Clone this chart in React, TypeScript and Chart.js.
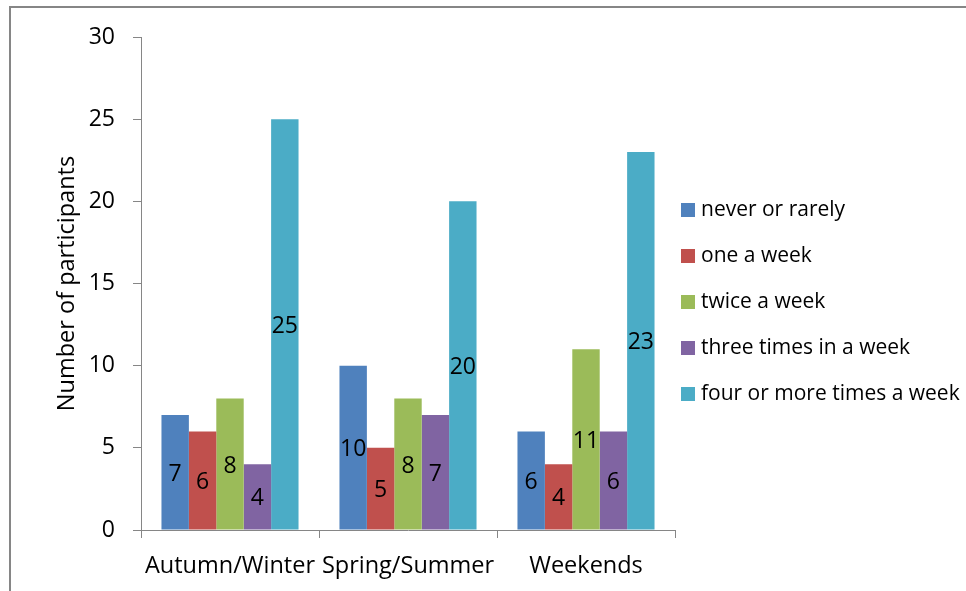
import React, { useEffect, useRef } from "react";
import { Chart, registerables } from "chart.js";

Chart.register(...registerables);

const categories = ["Autumn/Winter", "Spring/Summer", "Weekends"];
const seriesNames = [
  "never or rarely",
  "one a week",
  "twice a week",
  "three times in a week",
  "four or more times a week",
];
const neverOrRarely = [7, 10, 6];
const oneAWeek = [6, 5, 4];
const twiceAWeek = [8, 8, 11];
const threeTimesInAWeek = [4, 7, 6];
const fourOrMoreTimes = [25, 20, 23];
const seriesValues = [neverOrRarely, oneAWeek, twiceAWeek, threeTimesInAWeek, fourOrMoreTimes];
const seriesColors = ["#4F81BD", "#C0504D", "#9BBB59", "#8064A2", "#4BACC6"];
const yMin = 0;
const yMax = 30;
const yStep = 5;
const yTitle = "Number of participants";

const FONT = "'Open Sans', sans-serif";
const AXIS = "#868686";
const W = 966;
const H = 591;

const dataLabelPlugin = {
  id: "dataLabels",
  afterDatasetsDraw(chart: any) {
    const ctx = chart.ctx;
    ctx.save();
    ctx.font = `23px ${FONT}`;
    ctx.fillStyle = "#000";
    ctx.textAlign = "center";
    ctx.textBaseline = "middle";
    chart.data.datasets.forEach((ds: any, i: number) => {
      const meta = chart.getDatasetMeta(i);
      meta.data.forEach((el: any, j: number) => {
        const cy = (el.y + el.base) / 2 + 2;
        ctx.fillText(String(ds.data[j]), el.x, cy);
      });
    });
    ctx.restore();
  },
};

const legendPlugin = {
  id: "customLegend",
  afterDraw(chart: any) {
    const ctx = chart.ctx;
    const x0 = chart.chartArea.right + 6;
    const centerY = 302;
    const gap = 46;
    const n = chart.data.datasets.length;
    ctx.save();
    ctx.font = `21px ${FONT}`;
    ctx.textAlign = "left";
    ctx.textBaseline = "middle";
    chart.data.datasets.forEach((ds: any, i: number) => {
      const y = centerY + (i - (n - 1) / 2) * gap;
      ctx.fillStyle = ds.backgroundColor;
      ctx.fillRect(x0, y - 7, 14, 14);
      ctx.fillStyle = "#000";
      ctx.fillText(ds.label, x0 + 20, y);
    });
    ctx.restore();
  },
};

export default function App() {
  const ref = useRef<HTMLCanvasElement | null>(null);

  useEffect(() => {
    if (!ref.current) return;
    const chart = new Chart(ref.current, {
      type: "bar",
      data: {
        labels: categories,
        datasets: seriesNames.map((name, i) => ({
          label: name,
          data: seriesValues[i],
          backgroundColor: seriesColors[i],
          borderWidth: 0,
          categoryPercentage: 0.77,
          barPercentage: 1.0,
        })),
      },
      options: {
        animation: false,
        responsive: false,
        devicePixelRatio: 1,
        layout: { padding: { left: 10, top: 37, right: 291, bottom: 10 } },
        plugins: {
          legend: { display: false },
          tooltip: { enabled: false },
          title: { display: false },
        },
        scales: {
          x: {
            offset: true,
            grid: {
              offset: true,
              drawOnChartArea: false,
              drawTicks: true,
              tickLength: 8,
              color: AXIS,
            },
            border: { color: AXIS, width: 1 },
            ticks: {
              color: "#000",
              font: { family: FONT, size: 23.5 },
              padding: 14,
              maxRotation: 0,
              autoSkip: false,
            },
            afterFit: (scale: any) => {
              scale.height = H - 10 - 530;
            },
          },
          y: {
            min: yMin,
            max: yMax,
            grid: {
              drawOnChartArea: false,
              drawTicks: true,
              tickLength: 8,
              color: AXIS,
            },
            border: { color: AXIS, width: 1 },
            ticks: {
              stepSize: yStep,
              color: "#000",
              font: { family: FONT, size: 23 },
              padding: 18,
            },
            title: {
              display: true,
              text: yTitle,
              color: "#000",
              font: { family: FONT, size: 23.5 },
              padding: { top: 43, bottom: 0 },
            },
            afterFit: (scale: any) => {
              scale.width = 141 - 10;
            },
          },
        },
      },
      plugins: [dataLabelPlugin, legendPlugin],
    });
    return () => chart.destroy();
  }, []);

  return (
    <div
      style={{
        position: "fixed",
        left: 0,
        top: 0,
        width: W,
        height: H,
        overflow: "hidden",
        background: "#fff",
      }}
    >
      <div
        style={{
          position: "absolute",
          left: 9,
          top: 6,
          width: 2000,
          height: 2000,
          borderTop: `2px solid ${AXIS}`,
          borderLeft: `2px solid ${AXIS}`,
        }}
      />
      <canvas
        ref={ref}
        width={W}
        height={H}
        style={{ position: "absolute", left: 0, top: 0, width: W, height: H }}
      />
    </div>
  );
}
